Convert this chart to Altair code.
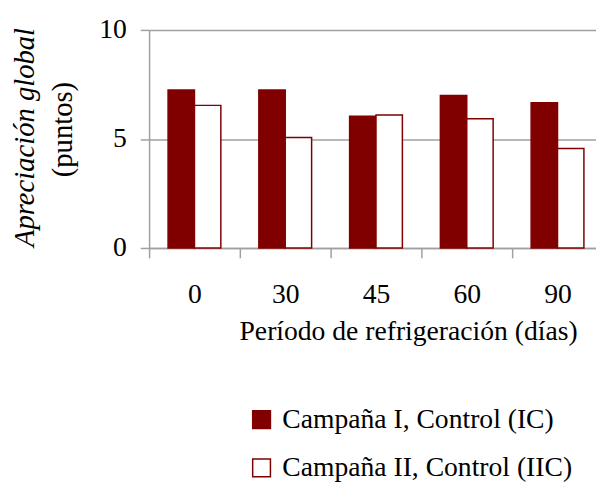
import altair as alt
import pandas as pd

periods = ["0", "30", "45", "60", "90"]
series = ["Campaña I, Control (IC)", "Campaña II, Control (IIC)"]
ic_values = [7.25, 7.25, 6.04, 6.99, 6.66]
iic_values = [6.54, 5.07, 6.10, 5.93, 4.56]
y_title_italic = ["Apreciación global"]
y_title_plain = ["(puntos)"]
x_title = "Período de refrigeración (días)"

rows = []
for p, a, b in zip(periods, ic_values, iic_values):
    rows.append({"periodo": p, "serie": series[0], "valor": a})
    rows.append({"periodo": p, "serie": series[1], "valor": b})
df = pd.DataFrame(rows)

FONT = "Liberation Serif"
FS = 28
FS_YT = 29
DARK = "#800000"
GRAY = "#a0a0a0"

legend_cfg = dict(title=None, orient="none", legendX=100, legendY=381,
                  symbolType="square", symbolSize=324,
                  symbolStrokeWidth=1.5, labelFont=FONT,
                  labelFontSize=FS, labelColor="black",
                  labelOffset=7, rowPadding=21, padding=0,
                  labelLimit=500, direction="vertical")

bars = alt.Chart(df).mark_bar(strokeWidth=1.5).encode(
    x=alt.X("periodo:N", sort=periods,
            scale=alt.Scale(range=[0, 460], paddingInner=0, paddingOuter=0),
            axis=alt.Axis(title=x_title, labelAngle=0, tickBand="extent",
                          tickSize=10, tickColor=GRAY, tickWidth=1.5,
                          domainColor=GRAY, domainWidth=1.5,
                          labelFont=FONT, labelFontSize=FS, labelColor="black",
                          labelBaseline="alphabetic", labelPadding=45,
                          titleFont=FONT, titleFontSize=FS, titleFontWeight="normal",
                          titleColor="black", titleBaseline="alphabetic",
                          titleX=262.5, titleY=93, titleAlign="center", titleAnchor="start")),
    xOffset=alt.XOffset("serie:N", sort=series,
                        scale=alt.Scale(paddingOuter=0.72, paddingInner=0)),
    y=alt.Y("valor:Q", scale=alt.Scale(domain=[0, 10]),
            axis=alt.Axis(title=None, values=[0, 5, 10], grid=True,
                          gridColor=GRAY, gridWidth=1.5,
                          domainColor=GRAY, domainWidth=1.5,
                          tickColor=GRAY, tickWidth=1.5, tickSize=9,
                          labelFont=FONT, labelFontSize=FS, labelColor="black",
                          labelPadding=14)),
    fill=alt.Fill("serie:N", sort=series,
                  scale=alt.Scale(domain=series, range=[DARK, "#ffffff"]),
                  legend=alt.Legend(**legend_cfg)),
    stroke=alt.Stroke("serie:N", sort=series,
                      scale=alt.Scale(domain=series, range=[DARK, DARK]),
                      legend=alt.Legend(**legend_cfg)),
)

t1 = alt.Chart(pd.DataFrame({"t": y_title_italic})).mark_text(
    font=FONT, fontSize=FS_YT, fontStyle="italic", angle=270,
    align="center", baseline="alphabetic", color="black"
).encode(text="t:N", x=alt.value(-117), y=alt.value(109))

t2 = alt.Chart(pd.DataFrame({"t": y_title_plain})).mark_text(
    font=FONT, fontSize=FS_YT, angle=270,
    align="center", baseline="alphabetic", color="black"
).encode(text="t:N", x=alt.value(-78), y=alt.value(101))

chart = alt.layer(bars, t1, t2).properties(
    width=453, height=221,
    autosize=alt.AutoSizeParams(type="none"),
    padding={"left": 143, "top": 19, "right": 0, "bottom": 236},
    background="white",
).configure_view(stroke=None)

chart.save("out.html", embed_options={"renderer": "svg", "actions": False})
